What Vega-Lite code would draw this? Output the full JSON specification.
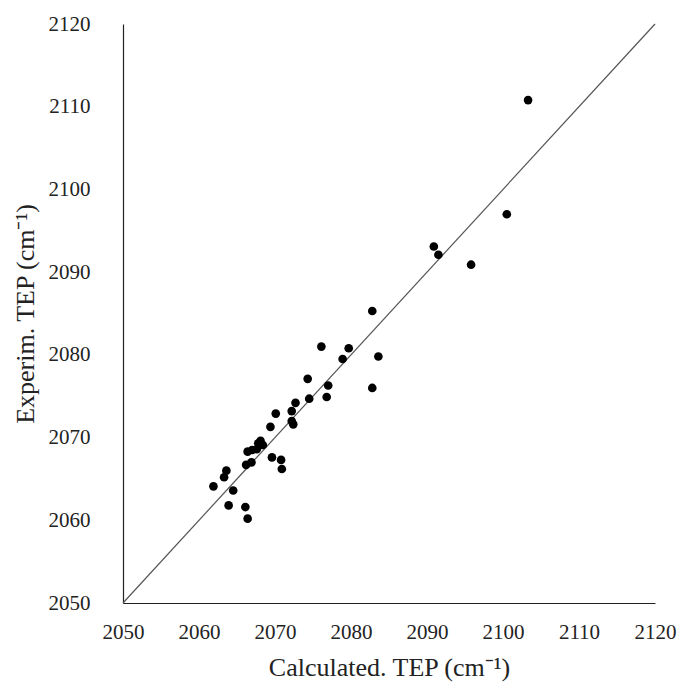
{
  "$schema": "https://vega.github.io/schema/vega-lite/v6.json",
  "width": 532,
  "height": 579,
  "autosize": {"type": "none"},
  "padding": {"left": 123, "top": 24, "right": 26, "bottom": 87},
  "background": "white",
  "config": {
    "view": {"stroke": null},
    "font": "Liberation Serif",
    "axis": {
      "grid": false,
      "ticks": false,
      "domainColor": "#222",
      "domainWidth": 1.2,
      "labelFont": "Liberation Serif",
      "labelFontSize": 21,
      "labelColor": "#222",
      "labelFlush": false,
      "labelOverlap": false,
      "titleFont": "Liberation Serif",
      "titleFontSize": 26,
      "titleFontWeight": "normal",
      "titleColor": "#222"
    }
  },
  "datasets": {
    "pts": [
      {"calc": 2061.9, "exp": 2064.1},
      {"calc": 2063.3, "exp": 2065.2},
      {"calc": 2063.6, "exp": 2066.0},
      {"calc": 2064.5, "exp": 2063.6},
      {"calc": 2063.9, "exp": 2061.8},
      {"calc": 2066.1, "exp": 2061.6},
      {"calc": 2066.4, "exp": 2060.2},
      {"calc": 2066.2, "exp": 2066.7},
      {"calc": 2066.9, "exp": 2067.0},
      {"calc": 2066.4, "exp": 2068.3},
      {"calc": 2067.0, "exp": 2068.5},
      {"calc": 2067.6, "exp": 2068.6},
      {"calc": 2068.1, "exp": 2069.6},
      {"calc": 2067.8, "exp": 2069.3},
      {"calc": 2068.4, "exp": 2069.1},
      {"calc": 2069.4, "exp": 2071.3},
      {"calc": 2070.1, "exp": 2072.9},
      {"calc": 2069.6, "exp": 2067.6},
      {"calc": 2070.8, "exp": 2067.3},
      {"calc": 2070.9, "exp": 2066.2},
      {"calc": 2072.2, "exp": 2073.2},
      {"calc": 2072.7, "exp": 2074.2},
      {"calc": 2072.2, "exp": 2072.0},
      {"calc": 2072.4, "exp": 2071.6},
      {"calc": 2074.3, "exp": 2077.1},
      {"calc": 2074.5, "exp": 2074.7},
      {"calc": 2076.1, "exp": 2081.0},
      {"calc": 2076.8, "exp": 2074.9},
      {"calc": 2077.0, "exp": 2076.3},
      {"calc": 2078.9, "exp": 2079.5},
      {"calc": 2079.7, "exp": 2080.8},
      {"calc": 2082.8, "exp": 2085.3},
      {"calc": 2083.6, "exp": 2079.8},
      {"calc": 2082.8, "exp": 2076.0},
      {"calc": 2090.9, "exp": 2093.1},
      {"calc": 2091.5, "exp": 2092.1},
      {"calc": 2095.8, "exp": 2090.9},
      {"calc": 2100.5, "exp": 2097.0},
      {"calc": 2103.3, "exp": 2110.8}
    ],
    "diag": [
      {"calc": 2050, "exp": 2050},
      {"calc": 2120, "exp": 2120}
    ]
  },
  "layer": [
    {
      "data": {"name": "diag"},
      "mark": {"type": "line", "color": "#555", "strokeWidth": 1.2},
      "encoding": {
        "x": {"field": "calc", "type": "quantitative"},
        "y": {"field": "exp", "type": "quantitative"}
      }
    },
    {
      "data": {"name": "pts"},
      "mark": {"type": "point", "filled": true, "color": "#000", "opacity": 1, "size": 75},
      "encoding": {
        "x": {
          "field": "calc", "type": "quantitative",
          "scale": {"domain": [2050, 2120], "nice": false, "zero": false},
          "axis": {
            "values": [2050, 2060, 2070, 2080, 2090, 2100, 2110, 2120],
            "format": "d",
            "labelPadding": 18,
            "title": "Calculated. TEP (cm⁻¹)",
            "titlePadding": 12
          }
        },
        "y": {
          "field": "exp", "type": "quantitative",
          "scale": {"domain": [2050, 2120], "nice": false, "zero": false},
          "axis": {
            "values": [2050, 2060, 2070, 2080, 2090, 2100, 2110, 2120],
            "format": "d",
            "labelPadding": 33,
            "title": "Experim. TEP (cm⁻¹)",
            "titlePadding": 10
          }
        }
      }
    }
  ]
}
